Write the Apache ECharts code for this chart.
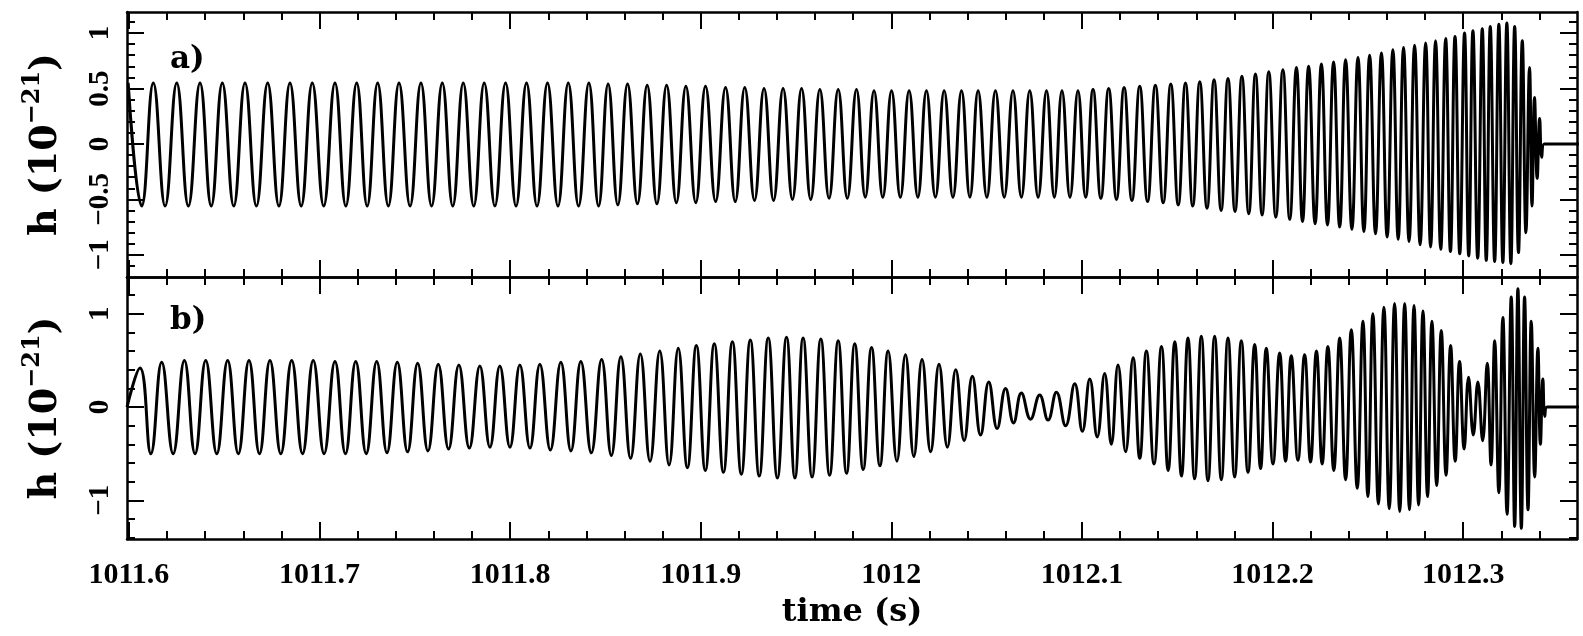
<!DOCTYPE html>
<html>
<head>
<meta charset="utf-8">
<script src="https://cdn.jsdelivr.net/npm/echarts@6/dist/echarts.min.js"></script>
<style>
  html, body { margin: 0; padding: 0; background: #fff; }
  #chart { width: 1583px; height: 636px; }
</style>
</head>
<body>
<div id="chart"></div>
<script>
// Strain h(t) in units of 1e-21, described by its successive maxima and minima.
// Panel a: non-precessing inspiral; panel b: precessing (amplitude-modulated) inspiral.

const aPeakT = [
  1011.5996, 1011.6128, 1011.6251, 1011.6373, 1011.6490, 1011.6609, 1011.6728, 1011.6845, 1011.6962, 1011.7081,
  1011.7195, 1011.7305, 1011.7417, 1011.7532, 1011.7644, 1011.7754, 1011.7864, 1011.7976, 1011.8086, 1011.8196,
  1011.8305, 1011.8413, 1011.8514, 1011.8616, 1011.8719, 1011.8821, 1011.8922, 1011.9025, 1011.9130, 1011.9231,
  1011.9332, 1011.9432, 1011.9529, 1011.9625, 1011.9721, 1011.9817, 1011.9909, 1012.0001, 1012.0093, 1012.0184,
  1012.0277, 1012.0368, 1012.0455, 1012.0546, 1012.0638, 1012.0726, 1012.0814, 1012.0895, 1012.0979, 1012.1058,
  1012.1140, 1012.1221, 1012.1303, 1012.1385, 1012.1466, 1012.1543, 1012.1618, 1012.1693, 1012.1766, 1012.1839,
  1012.1910, 1012.1980, 1012.2054, 1012.2125, 1012.2189, 1012.2256, 1012.2320, 1012.2383, 1012.2448, 1012.2509,
  1012.2571, 1012.2631, 1012.2687, 1012.2745, 1012.2803, 1012.2855, 1012.2908, 1012.2957, 1012.3007, 1012.3051,
  1012.3100, 1012.3142, 1012.3187, 1012.3229, 1012.3270, 1012.3310, 1012.3348, 1012.3374, 1012.3401
];
const aPeakH = [
  0.55, 0.55, 0.55, 0.55, 0.55, 0.55, 0.55, 0.55, 0.55, 0.55,
  0.55, 0.55, 0.55, 0.55, 0.55, 0.55, 0.55, 0.55, 0.55, 0.55,
  0.55, 0.55, 0.54, 0.54, 0.53, 0.53, 0.52, 0.52, 0.51, 0.51,
  0.50, 0.50, 0.50, 0.49, 0.49, 0.49, 0.48, 0.48, 0.48, 0.48,
  0.48, 0.48, 0.48, 0.48, 0.48, 0.48, 0.48, 0.48, 0.48, 0.49,
  0.50, 0.51, 0.52, 0.53, 0.54, 0.55, 0.56, 0.58, 0.59, 0.61,
  0.63, 0.65, 0.67, 0.69, 0.70, 0.72, 0.74, 0.76, 0.78, 0.80,
  0.82, 0.85, 0.87, 0.89, 0.91, 0.93, 0.95, 0.97, 1.00, 1.02,
  1.04, 1.06, 1.08, 1.09, 1.06, 0.93, 0.69, 0.42, 0.23
];
const aTroughT = [
  1011.6067, 1011.6190, 1011.6312, 1011.6432, 1011.6550, 1011.6669, 1011.6787, 1011.6904, 1011.7022, 1011.7138,
  1011.7250, 1011.7361, 1011.7475, 1011.7588, 1011.7699, 1011.7809, 1011.7920, 1011.8031, 1011.8141, 1011.8251,
  1011.8359, 1011.8464, 1011.8565, 1011.8668, 1011.8770, 1011.8872, 1011.8974, 1011.9078, 1011.9181, 1011.9282,
  1011.9382, 1011.9481, 1011.9577, 1011.9673, 1011.9769, 1011.9863, 1011.9955, 1012.0047, 1012.0139, 1012.0231,
  1012.0323, 1012.0412, 1012.0501, 1012.0592, 1012.0682, 1012.0770, 1012.0855, 1012.0937, 1012.1019, 1012.1099,
  1012.1181, 1012.1262, 1012.1344, 1012.1426, 1012.1505, 1012.1581, 1012.1656, 1012.1730, 1012.1803, 1012.1875,
  1012.1945, 1012.2017, 1012.2090, 1012.2157, 1012.2223, 1012.2288, 1012.2352, 1012.2416, 1012.2479, 1012.2540,
  1012.2601, 1012.2659, 1012.2716, 1012.2774, 1012.2829, 1012.2882, 1012.2933, 1012.2982, 1012.3029, 1012.3076,
  1012.3121, 1012.3165, 1012.3208, 1012.3250, 1012.3290, 1012.3329, 1012.3361, 1012.3388, 1012.3412
];
const aTroughH = [
  -0.56, -0.56, -0.56, -0.56, -0.56, -0.56, -0.56, -0.56, -0.56, -0.56,
  -0.56, -0.56, -0.56, -0.56, -0.56, -0.56, -0.56, -0.56, -0.56, -0.56,
  -0.56, -0.56, -0.55, -0.54, -0.54, -0.53, -0.53, -0.52, -0.52, -0.51,
  -0.51, -0.50, -0.50, -0.49, -0.49, -0.48, -0.48, -0.48, -0.48, -0.48,
  -0.48, -0.48, -0.48, -0.48, -0.48, -0.48, -0.48, -0.48, -0.48, -0.49,
  -0.50, -0.51, -0.52, -0.53, -0.55, -0.56, -0.58, -0.60, -0.61, -0.63,
  -0.64, -0.66, -0.68, -0.70, -0.72, -0.73, -0.75, -0.77, -0.79, -0.81,
  -0.84, -0.86, -0.88, -0.91, -0.93, -0.95, -0.97, -0.99, -1.01, -1.03,
  -1.05, -1.06, -1.07, -1.08, -0.98, -0.80, -0.56, -0.31, -0.12
];
// after the ringdown the signal stays at zero up to the end of the record
const aFlatT = [1012.3425, 1012.3620];

const bStart = [1011.5990, 0.00];
const bPeakT = [
  1011.6058, 1011.6172, 1011.6291, 1011.6403, 1011.6518, 1011.6630, 1011.6740, 1011.6854, 1011.6967, 1011.7081,
  1011.7190, 1011.7300, 1011.7408, 1011.7515, 1011.7623, 1011.7731, 1011.7841, 1011.7946, 1011.8051, 1011.8156,
  1011.8266, 1011.8371, 1011.8480, 1011.8581, 1011.8683, 1011.8785, 1011.8882, 1011.8977, 1011.9071, 1011.9166,
  1011.9260, 1011.9354, 1011.9450, 1011.9537, 1011.9630, 1011.9721, 1011.9808, 1011.9896, 1011.9983, 1012.0074,
  1012.0161, 1012.0250, 1012.0338, 1012.0425, 1012.0511, 1012.0599, 1012.0682, 1012.0778, 1012.0866, 1012.0962,
  1012.1041, 1012.1119, 1012.1189, 1012.1268, 1012.1338, 1012.1417, 1012.1487, 1012.1556, 1012.1626, 1012.1696,
  1012.1766, 1012.1836, 1012.1906, 1012.1967, 1012.2037, 1012.2098, 1012.2168, 1012.2230, 1012.2290, 1012.2352,
  1012.2413, 1012.2474, 1012.2526, 1012.2584, 1012.2640, 1012.2693, 1012.2742, 1012.2789, 1012.2836, 1012.2885,
  1012.2934, 1012.2981, 1012.3028, 1012.3077, 1012.3126, 1012.3165, 1012.3208, 1012.3252, 1012.3287, 1012.3322,
  1012.3357, 1012.3392, 1012.3418
];
const bPeakH = [
  0.42, 0.48, 0.50, 0.50, 0.50, 0.50, 0.50, 0.50, 0.50, 0.49,
  0.49, 0.49, 0.48, 0.47, 0.46, 0.45, 0.44, 0.44, 0.45, 0.46,
  0.48, 0.49, 0.51, 0.54, 0.57, 0.60, 0.63, 0.66, 0.68, 0.70,
  0.72, 0.74, 0.75, 0.74, 0.73, 0.71, 0.68, 0.64, 0.60, 0.56,
  0.51, 0.46, 0.40, 0.33, 0.27, 0.20, 0.15, 0.13, 0.16, 0.25,
  0.30, 0.36, 0.45, 0.53, 0.60, 0.65, 0.70, 0.74, 0.76, 0.76,
  0.74, 0.71, 0.67, 0.63, 0.58, 0.55, 0.56, 0.60, 0.65, 0.74,
  0.83, 0.92, 1.00, 1.07, 1.11, 1.11, 1.09, 1.03, 0.92, 0.82,
  0.66, 0.49, 0.32, 0.27, 0.47, 0.71, 0.96, 1.18, 1.27, 1.18,
  0.92, 0.63, 0.30
];
const bTroughT = [
  1011.6115, 1011.6232, 1011.6347, 1011.6461, 1011.6574, 1011.6685, 1011.6797, 1011.6911, 1011.7024, 1011.7136,
  1011.7245, 1011.7354, 1011.7462, 1011.7569, 1011.7677, 1011.7786, 1011.7894, 1011.7999, 1011.8104, 1011.8211,
  1011.8319, 1011.8426, 1011.8531, 1011.8632, 1011.8734, 1011.8834, 1011.8930, 1011.9024, 1011.9119, 1011.9213,
  1011.9307, 1011.9402, 1011.9494, 1011.9584, 1011.9676, 1011.9765, 1011.9852, 1011.9940, 1012.0029, 1012.0118,
  1012.0206, 1012.0294, 1012.0382, 1012.0468, 1012.0555, 1012.0641, 1012.0730, 1012.0822, 1012.0914, 1012.1002,
  1012.1080, 1012.1154, 1012.1229, 1012.1303, 1012.1378, 1012.1452, 1012.1522, 1012.1591, 1012.1661, 1012.1731,
  1012.1801, 1012.1871, 1012.1937, 1012.2002, 1012.2068, 1012.2133, 1012.2199, 1012.2260, 1012.2321, 1012.2383,
  1012.2444, 1012.2500, 1012.2555, 1012.2612, 1012.2667, 1012.2718, 1012.2766, 1012.2813, 1012.2861, 1012.2910,
  1012.2958, 1012.3005, 1012.3053, 1012.3102, 1012.3146, 1012.3187, 1012.3230, 1012.3270, 1012.3305, 1012.3340,
  1012.3375, 1012.3405, 1012.3428
];
const bTroughH = [
  -0.50, -0.50, -0.50, -0.50, -0.50, -0.50, -0.50, -0.50, -0.50, -0.50,
  -0.50, -0.49, -0.48, -0.47, -0.45, -0.44, -0.43, -0.43, -0.44, -0.46,
  -0.47, -0.49, -0.52, -0.55, -0.58, -0.62, -0.65, -0.68, -0.70, -0.72,
  -0.74, -0.76, -0.76, -0.75, -0.73, -0.71, -0.67, -0.63, -0.58, -0.53,
  -0.48, -0.43, -0.36, -0.30, -0.23, -0.17, -0.13, -0.14, -0.20, -0.26,
  -0.32, -0.40, -0.48, -0.55, -0.61, -0.68, -0.74, -0.77, -0.79, -0.78,
  -0.75, -0.70, -0.66, -0.61, -0.58, -0.57, -0.59, -0.61, -0.68, -0.78,
  -0.87, -0.96, -1.04, -1.09, -1.12, -1.10, -1.05, -0.96, -0.84, -0.73,
  -0.58, -0.45, -0.30, -0.36, -0.62, -0.92, -1.15, -1.28, -1.30, -1.10,
  -0.75, -0.40, -0.10
];
const bFlatT = [1012.3440, 1012.3620];

// axis ticks and labels
const xMajor = [1011.6, 1011.7, 1011.8, 1011.9, 1012, 1012.1, 1012.2, 1012.3];
const aYMajor = [-1, -0.5, 0, 0.5, 1];
const bYMajor = [-1, 0, 1];

const T_MIN = 1011.599, T_MAX = 1012.3597;
const A_MIN = -1.2, A_MAX = 1.19;
const B_MIN = -1.415, B_MAX = 1.395;

function steps(from, to, step) {
  const out = [];
  const n = Math.round((to - from) / step);
  for (let k = 0; k <= n; k++) out.push(+(from + k * step).toFixed(3));
  return out;
}
const xMinor = steps(1011.6, 1012.34, 0.02);
const aYMinor = steps(-1.1, 1.1, 0.1);
const bYMinor = steps(-1.4, 1.2, 0.2);

function trace(peakT, peakH, troughT, troughH, lead, flatT) {
  const pts = [];
  if (lead) pts.push(lead);
  peakT.forEach((t, i) => pts.push([t, peakH[i]]));
  troughT.forEach((t, i) => pts.push([t, troughH[i]]));
  flatT.forEach(t => pts.push([t, 0]));
  pts.sort((p, q) => p[0] - q[0]);
  return pts;
}

const FONT = "'Liberation Serif', 'DejaVu Serif', serif";
const WIDE = "'DejaVu Serif', 'Liberation Serif', serif";
const INK = '#000';
const minus = v => String(v).replace('-', '\u2212');

function xAxis(grid, pos, ticks, len, opts) {
  const ax = {
    type: 'value', gridIndex: grid, position: pos, min: T_MIN, max: T_MAX,
    axisLine: { show: len > 10, onZero: false, lineStyle: { color: INK, width: 2.5 } },
    axisTick: { show: true, inside: true, length: len, customValues: ticks, lineStyle: { color: INK, width: 2 } },
    axisLabel: { show: false },
    splitLine: { show: false }
  };
  return Object.assign(ax, opts || {});
}
function yAxis(grid, pos, min, max, ticks, len, opts) {
  const ax = {
    type: 'value', gridIndex: grid, position: pos, min: min, max: max,
    axisLine: { show: len > 10, onZero: false, lineStyle: { color: INK, width: 2.5 } },
    axisTick: { show: true, inside: true, length: len, customValues: ticks, lineStyle: { color: INK, width: 2 } },
    axisLabel: { show: false },
    splitLine: { show: false }
  };
  return Object.assign(ax, opts || {});
}

const MAJ = 17, MIN = 8;

const yLabel = (ticks) => ({
  show: true, customValues: ticks, rotate: 90, margin: 12,
  color: INK, fontFamily: FONT, fontWeight: 'bold', fontSize: 29,
  formatter: v => minus(v)
});
const yName = {
  name: '{n|h (10}{s|\u221221}{n|)}',
  nameLocation: 'middle', nameRotate: 90, nameGap: 62, nameMoveOverlap: false,
  nameTextStyle: {
    rich: {
      n: { fontFamily: WIDE, fontWeight: 'bold', fontSize: 38, color: INK, lineHeight: 44, verticalAlign: 'bottom' },
      s: { fontFamily: WIDE, fontWeight: 'bold', fontSize: 24, color: INK, lineHeight: 24, verticalAlign: 'top' }
    }
  }
};

const option = {
  animation: false,
  backgroundColor: '#fff',
  grid: [
    { left: 127, top: 12, width: 1450, height: 265, containLabel: false, outerBoundsMode: 'none' },
    { left: 127, top: 277, width: 1450, height: 262, containLabel: false, outerBoundsMode: 'none' }
  ],
  xAxis: [
    xAxis(0, 'bottom', xMajor, MAJ),
    xAxis(0, 'bottom', xMinor, MIN),
    xAxis(0, 'top', xMajor, MAJ),
    xAxis(0, 'top', xMinor, MIN),
    xAxis(1, 'bottom', xMajor, MAJ, {
      axisLabel: {
        show: true, customValues: xMajor, margin: 21,
        color: INK, fontFamily: FONT, fontWeight: 'bold', fontSize: 30,
        formatter: v => String(v)
      },
      name: 'time (s)', nameLocation: 'middle', nameGap: 58, nameMoveOverlap: false,
      nameTextStyle: { fontFamily: WIDE, fontWeight: 'bold', fontSize: 32, color: INK }
    }),
    xAxis(1, 'bottom', xMinor, MIN),
    xAxis(1, 'top', xMajor, MAJ),
    xAxis(1, 'top', xMinor, MIN)
  ],
  yAxis: [
    yAxis(0, 'left', A_MIN, A_MAX, aYMajor, MAJ, Object.assign({ axisLabel: yLabel(aYMajor) }, yName)),
    yAxis(0, 'left', A_MIN, A_MAX, aYMinor, MIN),
    yAxis(0, 'right', A_MIN, A_MAX, aYMajor, MAJ),
    yAxis(0, 'right', A_MIN, A_MAX, aYMinor, MIN),
    yAxis(1, 'left', B_MIN, B_MAX, bYMajor, MAJ, Object.assign({ axisLabel: yLabel(bYMajor) }, yName)),
    yAxis(1, 'left', B_MIN, B_MAX, bYMinor, MIN),
    yAxis(1, 'right', B_MIN, B_MAX, bYMajor, MAJ),
    yAxis(1, 'right', B_MIN, B_MAX, bYMinor, MIN)
  ],
  graphic: [
    { type: 'text', left: 170, top: 44, style: { text: 'a)', font: "bold 31px 'DejaVu Serif', serif", fill: INK } },
    { type: 'text', left: 170, top: 305, style: { text: 'b)', font: "bold 31px 'DejaVu Serif', serif", fill: INK } }
  ],
  series: [
    {
      type: 'line', xAxisIndex: 0, yAxisIndex: 0, showSymbol: false, smooth: 0.45,
      lineStyle: { color: INK, width: 3 },
      data: trace(aPeakT, aPeakH, aTroughT, aTroughH, null, aFlatT)
    },
    {
      type: 'line', xAxisIndex: 4, yAxisIndex: 4, showSymbol: false, smooth: 0.45,
      lineStyle: { color: INK, width: 3 },
      data: trace(bPeakT, bPeakH, bTroughT, bTroughH, bStart, bFlatT)
    }
  ]
};

const chart = echarts.init(document.getElementById('chart'), null, { renderer: 'canvas' });
chart.setOption(option);
</script>
</body>
</html>
